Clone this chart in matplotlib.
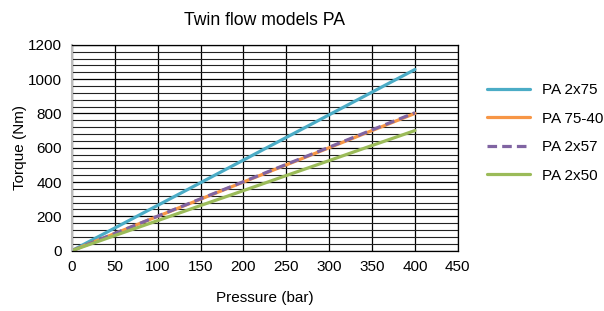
import numpy as np
import matplotlib.pyplot as plt

plt.rcParams["font.family"] = ["Liberation Sans", "DejaVu Sans"]

# data
pressure = [0, 50, 100, 150, 200, 250, 300, 350, 400]
pa_2x75 = [0, 132, 264, 396, 528, 660, 792, 924, 1056]
pa_75_40 = [0, 100, 200, 300, 400, 500, 600, 700, 800]
pa_2x57 = [0, 100, 201, 302, 402, 503, 603, 704, 804]
pa_2x50 = [0, 88, 175, 263, 350, 438, 525, 613, 700]

fig = plt.figure(figsize=(6.04, 3.11), dpi=100)
ax = fig.add_axes([0.119, 0.194, 0.639, 0.662])

ax.plot(pressure, pa_2x75, color="#4BACC6", lw=2.3, label="PA 2x75", solid_capstyle="round")
ax.plot(pressure, pa_75_40, color="#F79646", lw=2.3, label="PA 75-40", solid_capstyle="round")
ax.plot(pressure, pa_2x57, color="#8064A2", lw=2.3, label="PA 2x57", linestyle=(0, (3, 1.6)))
ax.plot(pressure, pa_2x50, color="#9BBB59", lw=2.3, label="PA 2x50", solid_capstyle="round")

ax.set_xlim(0, 450)
ax.set_ylim(0, 1200)
ax.set_xticks(np.arange(0, 451, 50))
ax.set_yticks(np.arange(0, 1201, 200))
ax.set_yticks(np.arange(0, 1201, 40), minor=True)
ax.tick_params(axis="both", which="both", length=0, labelsize=11)
ax.tick_params(axis="y", pad=7)
ax.tick_params(axis="x", pad=7)

ax.grid(True, which="major", axis="both", color="black", lw=0.9)
ax.grid(True, which="minor", axis="y", color="#222222", lw=0.8)
ax.set_axisbelow(True)

for s in ["top", "right", "bottom"]:
    ax.spines[s].set_color("black")
    ax.spines[s].set_linewidth(0.9)
ax.spines["left"].set_color("#BBBBBB")
ax.spines["left"].set_linewidth(1.5)

ax.set_title("Twin flow models PA", fontsize=12.7, pad=14)
ax.set_xlabel("Pressure (bar)", fontsize=11, labelpad=12)
ax.set_ylabel("Torque (Nm)", fontsize=11, labelpad=1)

ax.legend(loc="upper left", bbox_to_anchor=(1.04, 0.88), frameon=False,
          fontsize=11, handlelength=2.8, handletextpad=0.8, labelspacing=0.95)

fig.savefig("out.png", dpi=100)
